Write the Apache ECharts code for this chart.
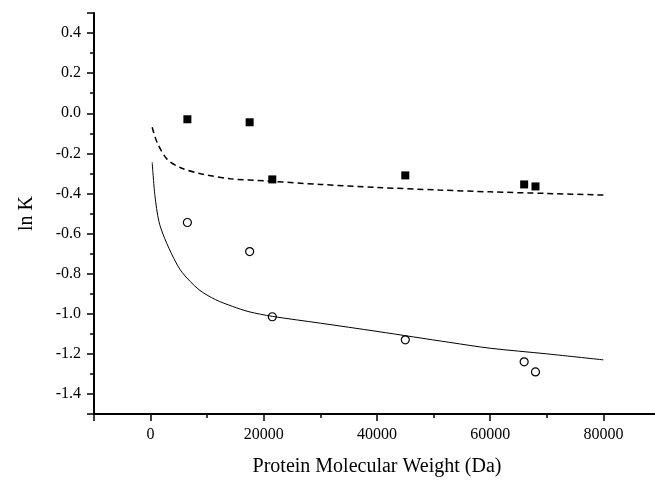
<!DOCTYPE html>
<html>
<head>
<meta charset="utf-8">
<script src="https://cdn.jsdelivr.net/npm/echarts@6/dist/echarts.min.js"></script>
<style>
  html, body { margin: 0; padding: 0; background: #fff; }
  #chart { width: 655px; height: 481px; }
</style>
</head>
<body>
<div id="chart"></div>
<script>
// measured points (protein MW in Da, ln K)
const proteinMw = [6500, 17500, 21500, 45000, 66000, 68000];
const lnKFilled = [-0.03, -0.045, -0.33, -0.31, -0.355, -0.365];
const lnKOpen = [-0.545, -0.69, -1.015, -1.13, -1.24, -1.29];

// fitted curves
const dashedMw = [280, 1170, 2940, 5310, 8850, 14160, 20640, 30000, 40000, 51000, 60000, 70000, 80000];
const dashedLnK = [-0.07, -0.147, -0.23, -0.272, -0.302, -0.327, -0.338, -0.355, -0.37, -0.383, -0.392, -0.4, -0.408];
const solidMw = [280, 760, 1470, 2500, 4120, 5600, 8550, 11500, 14440, 17400, 21500, 30000, 40000, 52870, 60000, 70000, 80000];
const solidLnK = [-0.245, -0.41, -0.54, -0.625, -0.725, -0.795, -0.88, -0.93, -0.963, -0.99, -1.013, -1.047, -1.088, -1.143, -1.172, -1.2, -1.23];

const serif = 'Liberation Serif';
const pairs = (xs, ys) => xs.map((x, i) => [x, ys[i]]);

const chart = echarts.init(document.getElementById('chart'));
chart.setOption({
  animation: false,
  grid: { left: 94, top: 13, right: -5, bottom: 67, outerBoundsMode: 'none' },
  xAxis: {
    type: 'value',
    min: -10000,
    max: 90000,
    splitNumber: 5,
    name: 'Protein Molecular Weight (Da)',
    nameLocation: 'middle',
    nameGap: 43,
    nameTextStyle: { fontFamily: serif, fontSize: 20, color: '#000' },
    axisLine: { onZero: false, lineStyle: { color: '#000', width: 2 } },
    axisTick: { length: 7, lineStyle: { color: '#000', width: 1.5 } },
    minorTick: { show: true, splitNumber: 2, length: 4, lineStyle: { color: '#000', width: 1.5 } },
    splitLine: { show: false },
    axisLabel: {
      margin: 13, fontFamily: serif, fontSize: 16, color: '#000',
      showMinLabel: false, showMaxLabel: false,
      formatter: v => (v % 20000 === 0 && v >= 0 && v <= 80000) ? String(v) : ''
    }
  },
  yAxis: {
    type: 'value',
    min: -1.5,
    max: 0.5,
    splitNumber: 10,
    name: 'ln K',
    nameLocation: 'middle',
    nameGap: 57,
    nameTextStyle: { fontFamily: serif, fontSize: 20, color: '#000' },
    axisLine: { show: true, onZero: false, lineStyle: { color: '#000', width: 2 } },
    axisTick: { show: true, length: 7, lineStyle: { color: '#000', width: 1.5 } },
    minorTick: { show: true, splitNumber: 2, length: 4, lineStyle: { color: '#000', width: 1.5 } },
    splitLine: { show: false },
    axisLabel: {
      margin: 13, fontFamily: serif, fontSize: 16, color: '#000',
      showMinLabel: false, showMaxLabel: false,
      formatter: v => v.toFixed(1)
    }
  },
  series: [
    {
      type: 'line',
      data: pairs(dashedMw, dashedLnK),
      smooth: 0.3,
      showSymbol: false,
      lineStyle: { color: '#000', width: 1.5, type: [6, 4] }
    },
    {
      type: 'line',
      data: pairs(solidMw, solidLnK),
      smooth: 0.3,
      showSymbol: false,
      lineStyle: { color: '#000', width: 1 }
    },
    {
      type: 'scatter',
      data: pairs(proteinMw, lnKFilled),
      symbol: 'rect',
      symbolSize: 8,
      itemStyle: { color: '#000', opacity: 1 }
    },
    {
      type: 'scatter',
      data: pairs(proteinMw, lnKOpen),
      symbol: 'circle',
      symbolSize: 8,
      itemStyle: { color: '#fff', borderColor: '#000', borderWidth: 1.2, opacity: 1 }
    }
  ]
});
</script>
</body>
</html>
